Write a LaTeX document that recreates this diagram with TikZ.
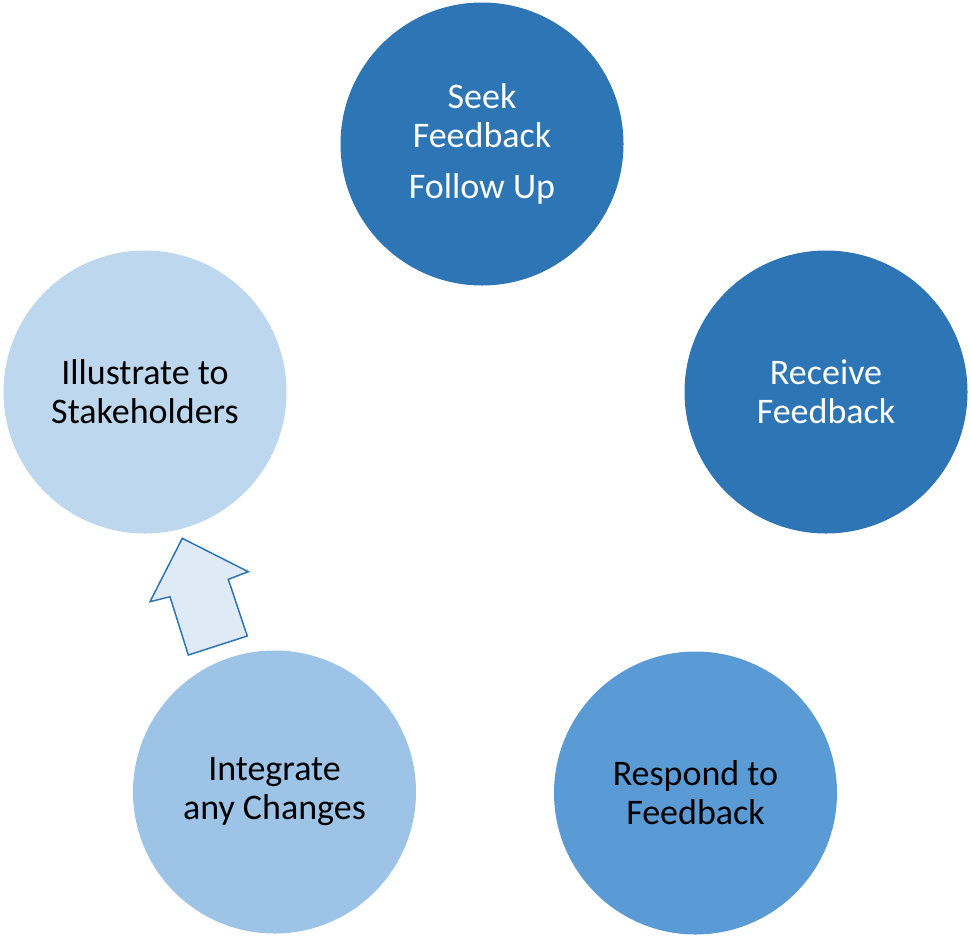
\documentclass[tikz,border=0pt]{standalone}
\usepackage{fontspec}
\setmainfont{Carlito}
\definecolor{dblue}{HTML}{2E75B6}
\definecolor{mblue}{HTML}{5B9BD5}
\definecolor{lblue}{HTML}{9DC3E6}
\definecolor{llblue}{HTML}{BDD7EE}
\definecolor{arrfill}{HTML}{DEEBF7}
\tikzset{
  stage/.style={circle, minimum size=283pt, inner sep=0pt, draw=none, align=center,
    font=\fontsize{36}{39}\selectfont},
}
\begin{document}
\begin{tikzpicture}[x=1pt,y=-1pt]
\useasboundingbox (0,0) rectangle (971,938);
\node[stage, fill=dblue, text=white] (seek) at (482,144) {Seek\\Feedback\\[12pt]Follow Up};
\node[stage, fill=dblue, text=white] (receive) at (826,392) {Receive\\Feedback};
\node[stage, fill=mblue, text=black] (respond) at (695.5,793) {Respond to\\Feedback};
\node[stage, fill=lblue, text=black] (integrate) at (274.5,792) {Integrate\\any Changes};
\node[stage, fill=llblue, text=black] (illustrate) at (145,392) {Illustrate to\\Stakeholders};
\draw[draw=dblue, fill=arrfill, line width=1.5pt, line join=miter]
  (182.3,538.3) -- (248.3,571.7) -- (228.3,579.3) -- (247.3,636) -- (188.3,655)
  -- (170,596.7) -- (150,601.7) -- cycle;
\end{tikzpicture}
\end{document}
